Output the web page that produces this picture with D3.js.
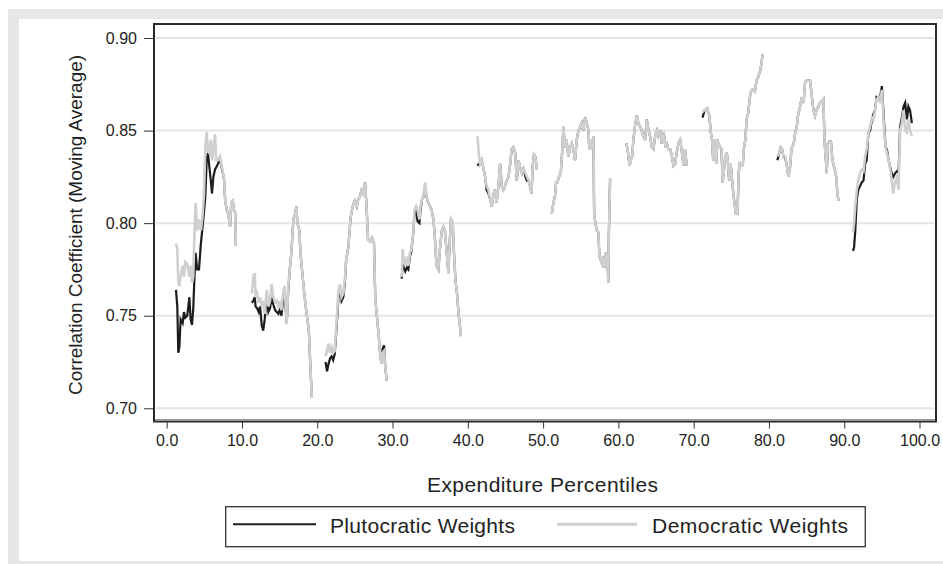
<!DOCTYPE html>
<html>
<head>
<meta charset="utf-8">
<script src="https://cdn.jsdelivr.net/npm/d3@7"></script>
<style>
  html, body { margin: 0; padding: 0; background: #ffffff; }
  svg { display: block; }
  text { font-family: "Liberation Sans", Arial, Helvetica, sans-serif; fill: #222; }
</style>
</head>
<body>
<svg id="chart" width="943" height="564"></svg>
<script>
// ---- data (null marks a gap between percentile blocks) ----
const percentiles = [
  1.23,1.41,1.54,1.68,1.85,2.12,2.29,2.47,2.73,3.01,3.18,3.36,3.53,3.66,3.84,4.04,4.29,4.54,4.74,4.95,5.13,5.31,5.48,5.65,5.86,6.02,6.2,6.42,6.56,6.81,7.07,7.35,7.61,7.77,7.98,8.18,8.41,8.58,8.78,8.93,9.09,9.19,
  null,
  11.29,11.51,11.69,11.81,12.01,12.22,12.4,12.62,12.82,13.02,13.28,13.51,13.73,13.93,14.17,14.4,14.62,14.84,15.04,15.24,15.45,15.65,15.95,16.15,16.35,16.56,16.83,17.06,17.23,17.36,17.62,17.77,17.97,18.27,18.53,18.88,19.05,19.28,
  null,
  21.1,21.3,21.5,21.71,21.91,22.11,22.31,22.59,22.82,23.02,23.22,23.46,23.67,23.83,24.13,24.43,24.7,24.97,25.24,25.44,25.64,25.9,26.12,26.35,26.55,26.75,27.01,27.26,27.54,27.71,27.96,28.17,28.34,28.52,28.67,28.87,29.04,29.23,
  null,
  31.22,31.35,31.5,31.7,31.9,32.1,32.31,32.51,32.76,32.91,33.11,33.32,33.57,33.72,33.92,34.09,34.33,34.53,34.73,34.98,35.2,35.44,35.64,35.84,36.09,36.31,36.55,36.75,36.95,37.2,37.42,37.56,37.76,38.0,38.16,38.36,38.57,38.77,38.97,39.07,
  null,
  41.29,41.45,41.63,41.86,42.1,42.3,42.5,42.74,42.96,43.18,43.41,43.61,43.81,44.07,44.29,44.52,44.72,44.93,45.18,45.4,45.63,45.83,46.04,46.29,46.51,46.74,46.94,47.18,47.4,47.65,47.85,48.06,48.26,48.46,48.62,48.79,48.96,49.17,
  null,
  51.14,51.37,51.59,51.72,51.89,52.09,52.35,52.5,52.7,52.9,53.1,53.36,53.58,53.81,54.01,54.24,54.47,54.69,54.92,55.12,55.32,55.58,55.8,56.03,56.13,56.33,56.5,56.69,56.78,56.94,57.14,57.34,57.48,57.65,57.85,58.05,58.19,58.35,58.55,58.66,58.73,58.9,
  null,
  61.08,61.28,61.48,61.64,61.83,61.99,62.19,62.44,62.66,62.9,63.1,63.33,63.55,63.77,64.01,64.21,64.44,64.66,64.88,65.12,65.32,65.55,65.77,66.03,66.23,66.43,66.63,66.88,67.11,67.32,67.54,67.74,67.99,68.21,68.45,68.65,68.85,69.09,
  null,
  71.17,71.48,71.78,72.08,72.28,72.44,72.59,72.79,72.99,73.14,73.29,73.5,73.7,73.85,74.03,74.2,74.4,74.57,74.71,74.91,75.11,75.27,75.41,75.62,75.82,75.98,76.12,76.32,76.52,76.69,76.87,77.03,77.23,77.53,77.74,77.94,78.14,78.34,78.59,78.82,79.0,79.15,
  null,
  81.12,81.37,81.57,81.74,81.93,82.18,82.38,82.58,82.78,82.99,83.29,83.49,83.69,83.89,84.14,84.36,84.6,84.8,85.0,85.21,85.46,85.71,85.91,86.12,86.32,86.57,86.79,87.02,87.23,87.38,87.53,87.68,87.83,88.03,88.24,88.39,88.54,88.74,88.94,89.1,89.25,
  null,
  91.16,91.31,91.47,91.67,91.87,92.11,92.33,92.56,92.78,92.98,93.22,93.44,93.69,93.89,94.09,94.29,94.55,94.77,95.0,95.1,95.3,95.5,95.66,95.91,96.11,96.31,96.51,96.77,96.99,97.22,97.42,97.66,97.88,98.1,98.33,98.53,98.74,98.99
];

const plutocraticWeights = [
  .764,.755,.730,.733,.748,.746,.752,.749,.750,.760,.748,.745,.754,.768,.784,.775,.775,.789,.797,.806,.814,.834,.838,.831,.823,.816,.825,.829,.830,.832,.835,.829,.824,.812,.807,.805,.798,.811,.812,.807,.806,.788,
  null,
  .757,.758,.760,.755,.754,.752,.755,.745,.742,.748,.760,.752,.754,.760,.756,.753,.752,.751,.754,.750,.758,.762,.746,.764,.775,.784,.802,.805,.809,.800,.796,.784,.775,.762,.753,.742,.726,.706,
  null,
  .725,.720,.724,.727,.728,.726,.729,.745,.760,.763,.758,.760,.768,.780,.787,.803,.809,.812,.809,.813,.814,.818,.816,.822,.809,.791,.790,.792,.789,.759,.748,.739,.730,.724,.732,.734,.722,.715,
  null,
  .770,.778,.776,.774,.776,.775,.782,.785,.795,.805,.807,.801,.800,.807,.813,.814,.820,.814,.811,.809,.807,.802,.791,.777,.775,.787,.796,.798,.796,.784,.773,.787,.802,.800,.784,.769,.762,.751,.744,.739,
  null,
  .831,.832,.832,.834,.829,.825,.818,.816,.813,.809,.816,.818,.811,.820,.832,.820,.818,.820,.823,.825,.832,.840,.841,.838,.823,.834,.830,.827,.830,.825,.823,.823,.820,.816,.831,.837,.836,.829,
  null,
  .805,.811,.815,.822,.822,.825,.827,.836,.852,.841,.845,.836,.841,.843,.840,.834,.845,.850,.852,.854,.850,.857,.854,.850,.840,.845,.840,.847,.805,.800,.796,.795,.782,.780,.778,.782,.776,.784,.780,.768,.793,.824,
  null,
  .843,.838,.831,.834,.836,.845,.852,.858,.854,.852,.850,.847,.845,.856,.850,.847,.841,.840,.847,.850,.847,.850,.843,.849,.842,.843,.840,.840,.836,.831,.832,.838,.843,.845,.838,.831,.840,.831,
  null,
  .857,.861,.862,.858,.849,.845,.834,.845,.832,.845,.843,.841,.840,.822,.829,.836,.838,.832,.823,.832,.823,.816,.811,.805,.805,.827,.833,.831,.831,.841,.845,.856,.859,.870,.872,.872,.871,.877,.879,.882,.886,.891,
  null,
  .834,.838,.841,.840,.836,.835,.831,.825,.829,.840,.843,.849,.852,.859,.863,.868,.865,.876,.877,.877,.877,.868,.861,.858,.861,.863,.865,.866,.867,.845,.836,.827,.843,.844,.844,.836,.832,.829,.825,.816,.812,
  null,
  .785,.787,.796,.813,.818,.820,.822,.823,.832,.834,.849,.850,.856,.859,.861,.868,.867,.868,.874,.868,.854,.841,.840,.834,.830,.827,.825,.827,.828,.827,.852,.857,.863,.865,.856,.863,.861,.854
];

const democraticWeights = [
  .789,.786,.769,.766,.771,.777,.771,.779,.778,.771,.777,.768,.771,.791,.811,.796,.802,.796,.803,.815,.841,.849,.839,.838,.845,.834,.839,.848,.834,.834,.836,.830,.824,.812,.807,.805,.798,.811,.812,.807,.806,.788,
  null,
  .762,.771,.773,.760,.762,.757,.760,.755,.758,.751,.764,.755,.758,.767,.760,.757,.758,.755,.758,.753,.762,.766,.746,.766,.775,.784,.802,.805,.809,.800,.796,.784,.775,.762,.753,.742,.726,.706,
  null,
  .728,.731,.735,.730,.733,.730,.731,.748,.764,.767,.760,.762,.770,.780,.787,.803,.809,.812,.809,.813,.814,.818,.816,.822,.809,.791,.790,.792,.789,.759,.748,.739,.730,.724,.730,.731,.722,.715,
  null,
  .771,.786,.780,.777,.782,.777,.784,.786,.795,.807,.809,.807,.802,.809,.813,.814,.822,.814,.811,.809,.807,.802,.791,.777,.775,.787,.796,.798,.796,.784,.773,.787,.802,.800,.784,.769,.762,.751,.744,.739,
  null,
  .847,.838,.832,.834,.829,.825,.820,.818,.813,.809,.816,.818,.811,.820,.832,.820,.818,.820,.823,.825,.832,.840,.841,.838,.823,.834,.830,.827,.830,.827,.825,.823,.820,.816,.831,.837,.836,.829,
  null,
  .805,.811,.814,.822,.822,.825,.827,.836,.852,.841,.845,.836,.841,.843,.840,.834,.845,.850,.852,.854,.850,.857,.854,.850,.840,.845,.840,.847,.805,.800,.796,.795,.782,.780,.778,.782,.776,.784,.780,.768,.793,.824,
  null,
  .843,.838,.831,.834,.836,.845,.852,.858,.854,.852,.850,.847,.845,.856,.850,.847,.841,.840,.847,.850,.847,.850,.843,.849,.842,.843,.840,.840,.836,.831,.832,.838,.843,.845,.838,.831,.840,.831,
  null,
  .860,.861,.862,.858,.849,.845,.834,.845,.832,.845,.843,.841,.840,.822,.829,.836,.838,.832,.823,.832,.823,.816,.811,.805,.805,.827,.833,.831,.831,.841,.845,.856,.859,.870,.872,.872,.871,.877,.879,.882,.886,.891,
  null,
  .836,.838,.841,.840,.836,.836,.831,.825,.829,.840,.843,.849,.852,.859,.863,.868,.865,.876,.877,.877,.877,.868,.861,.858,.861,.863,.865,.866,.867,.845,.836,.827,.843,.844,.844,.836,.832,.829,.825,.816,.812,
  null,
  .795,.800,.809,.818,.823,.827,.829,.828,.836,.840,.849,.852,.857,.856,.861,.867,.868,.865,.872,.865,.850,.841,.838,.834,.829,.823,.816,.823,.825,.818,.850,.854,.861,.850,.849,.856,.850,.847
];

const xTickValues = [0, 10, 20, 30, 40, 50, 60, 70, 80, 90, 100];
const yTickValues = [0.70, 0.75, 0.80, 0.85, 0.90];
const seriesNames = ["Plutocratic Weights", "Democratic Weights"];
const seriesColors = ["#1c1c1c", "#cfcfcf"];
const xTitle = "Expenditure Percentiles";
const yTitle = "Correlation Coefficient (Moving Average)";

// ---- layout ----
const svg = d3.select("#chart");
const frame = { left: 154, top: 24, right: 936, bottom: 421.5 };

// background panels
svg.append("rect").attr("x", 8).attr("y", 9).attr("width", 935).attr("height", 555).attr("fill", "#e6e7e8");
svg.append("rect").attr("x", 19).attr("y", 19).attr("width", 924).attr("height", 542).attr("fill", "#ffffff");

const x = d3.scaleLinear().domain([0, 100]).range([166.7, 919.5]);
const y = d3.scaleLinear().domain([0.70, 0.90]).range([408.3, 38]);

// gridlines
svg.append("g").selectAll("line").data(yTickValues).join("line")
  .attr("x1", frame.left + 2).attr("x2", frame.right - 2)
  .attr("y1", d => y(d)).attr("y2", d => y(d))
  .attr("stroke", "#e4e4e4").attr("stroke-width", 2);

// series
const rows = percentiles.map((p, i) => ({ p, a: plutocraticWeights[i], b: democraticWeights[i] }));
const lineA = d3.line().defined(d => d.p != null && d.a != null).x(d => x(d.p)).y(d => y(d.a));
const lineB = d3.line().defined(d => d.p != null && d.b != null).x(d => x(d.p)).y(d => y(d.b));

svg.append("path").datum(rows).attr("d", lineA)
  .attr("fill", "none").attr("stroke", seriesColors[0]).attr("stroke-width", 2.2).attr("stroke-linejoin", "miter");
svg.append("path").datum(rows).attr("d", lineB)
  .attr("fill", "none").attr("stroke", seriesColors[1]).attr("stroke-width", 2.6).attr("stroke-linejoin", "miter");

// frame
svg.append("rect")
  .attr("x", frame.left).attr("y", frame.top)
  .attr("width", frame.right - frame.left).attr("height", frame.bottom - frame.top)
  .attr("fill", "none").attr("stroke", "#2a2a2a").attr("stroke-width", 2);
svg.append("line").attr("x1", frame.left + 1).attr("x2", frame.right - 1)
  .attr("y1", frame.bottom - 2).attr("y2", frame.bottom - 2)
  .attr("stroke", "#9a9a9a").attr("stroke-width", 1);

// y axis
const yAxis = d3.axisLeft(y).tickValues(yTickValues).tickSize(10).tickPadding(7).tickFormat(d3.format(".2f"));
const gy = svg.append("g").attr("transform", `translate(${frame.left},0)`).call(yAxis);
gy.select(".domain").remove();
gy.selectAll(".tick line").attr("stroke", "#333").attr("stroke-width", 1);
gy.selectAll(".tick text").attr("font-size", 16).attr("fill", "#222")
  .attr("font-family", '"Liberation Sans", Arial, sans-serif');

// x axis
const xAxis = d3.axisBottom(x).tickValues(xTickValues).tickSize(7).tickPadding(6).tickFormat(d3.format(".1f"));
const gx = svg.append("g").attr("transform", `translate(0,${frame.bottom})`).call(xAxis);
gx.select(".domain").remove();
gx.selectAll(".tick line").attr("stroke", "#333").attr("stroke-width", 1);
gx.selectAll(".tick text").attr("font-size", 16).attr("fill", "#222")
  .attr("font-family", '"Liberation Sans", Arial, sans-serif');

// titles
svg.append("text").attr("x", 542.5).attr("y", 492.3).attr("text-anchor", "middle")
  .attr("font-size", 21).attr("textLength", 231).attr("lengthAdjust", "spacing").text(xTitle);
svg.append("text").attr("transform", "translate(81.5,225) rotate(-90)").attr("text-anchor", "middle")
  .attr("font-size", 19).attr("textLength", 340).attr("lengthAdjust", "spacingAndGlyphs").text(yTitle);

// legend
const lg = svg.append("g");
lg.append("rect").attr("x", 225.7).attr("y", 506.7).attr("width", 639.6).attr("height", 40)
  .attr("fill", "#fff").attr("stroke", "#333").attr("stroke-width", 1.3);
const legendItems = [
  { x1: 233, x2: 316, tx: 330, tl: 185, name: seriesNames[0], color: seriesColors[0], w: 2 },
  { x1: 557, x2: 637, tx: 652, tl: 196, name: seriesNames[1], color: seriesColors[1], w: 3 }
];
legendItems.forEach(it => {
  lg.append("line").attr("x1", it.x1).attr("x2", it.x2).attr("y1", 524.3).attr("y2", 524.3)
    .attr("stroke", it.color).attr("stroke-width", it.w);
  lg.append("text").attr("x", it.tx).attr("y", 533.3).attr("font-size", 21)
    .attr("textLength", it.tl).attr("lengthAdjust", "spacing").text(it.name);
});
</script>
</body>
</html>
